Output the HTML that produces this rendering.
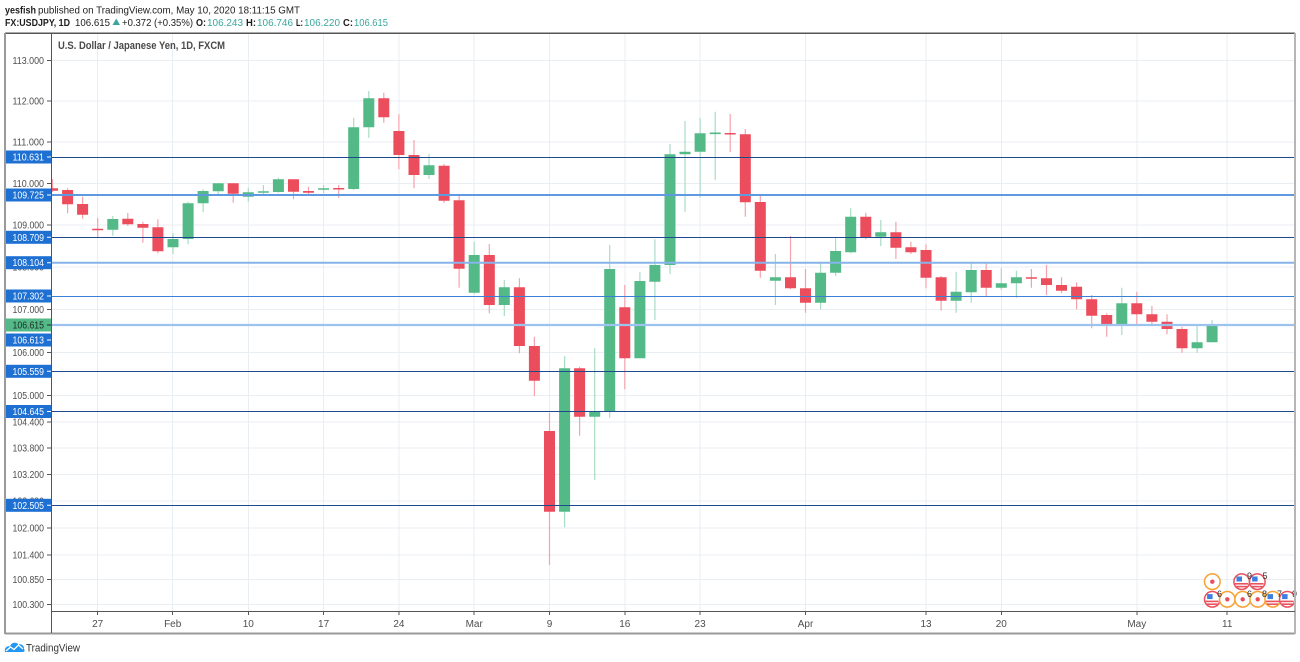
<!DOCTYPE html>
<html><head><meta charset="utf-8"><style>
html,body{margin:0;padding:0;background:#fff;}
svg{display:block;font-family:"Liberation Sans",sans-serif;}
</style></head><body>
<svg width="1300" height="662" viewBox="0 0 1300 662" xmlns="http://www.w3.org/2000/svg">
<defs><clipPath id="ca"><rect x="52" y="34" width="1242" height="577"/></clipPath></defs>
<rect width="1300" height="662" fill="#fff"/>

<!-- header -->
<text x="5" y="13.5" font-size="10.5" font-weight="bold" fill="#1e1e1e" textLength="31" lengthAdjust="spacingAndGlyphs">yesfish</text>
<text x="38" y="13.5" font-size="10.5" fill="#1e1e1e" textLength="262" lengthAdjust="spacingAndGlyphs">published on TradingView.com, May 10, 2020 18:11:15 GMT</text>
<g font-size="10.5" fill="#1e1e1e">
<text x="5" y="26" font-weight="bold" textLength="65" lengthAdjust="spacingAndGlyphs">FX:USDJPY, 1D</text>
<text x="75" y="26" textLength="35" lengthAdjust="spacingAndGlyphs">106.615</text>
<polygon points="112.5,25 120,25 116.25,18.5" fill="#3aa69d"/>
<text x="122" y="26" textLength="71" lengthAdjust="spacingAndGlyphs">+0.372 (+0.35%)</text>
<text x="196" y="26" font-weight="bold" textLength="10" lengthAdjust="spacingAndGlyphs">O:</text>
<text x="207" y="26" fill="#3aa69d" textLength="36" lengthAdjust="spacingAndGlyphs">106.243</text>
<text x="246" y="26" font-weight="bold" textLength="10" lengthAdjust="spacingAndGlyphs">H:</text>
<text x="257" y="26" fill="#3aa69d" textLength="36" lengthAdjust="spacingAndGlyphs">106.746</text>
<text x="296" y="26" font-weight="bold" textLength="7" lengthAdjust="spacingAndGlyphs">L:</text>
<text x="304" y="26" fill="#3aa69d" textLength="36" lengthAdjust="spacingAndGlyphs">106.220</text>
<text x="343" y="26" font-weight="bold" textLength="10" lengthAdjust="spacingAndGlyphs">C:</text>
<text x="354" y="26" fill="#3aa69d" textLength="34" lengthAdjust="spacingAndGlyphs">106.615</text>
</g>

<!-- grid -->
<g stroke="#e9eef3" stroke-width="1" shape-rendering="crispEdges">
<path d="M52 60.5H1294M52 101H1294M52 142H1294M52 183.3H1294M52 225H1294M52 267.1H1294M52 309.5H1294M52 352.4H1294M52 395.7H1294M52 421.8H1294M52 448.1H1294M52 474.6H1294M52 501.1H1294M52 528H1294M52 554.9H1294M52 579.7H1294M52 604.7H1294"/>
<path d="M97.7 34V611M172.7 34V611M248.3 34V611M323.6 34V611M398.9 34V611M474.2 34V611M549.5 34V611M624.8 34V611M700.1 34V611M805.5 34V611M926 34V611M1001.3 34V611M1136.8 34V611M1227.2 34V611"/>
</g>

<!-- title -->
<text x="58" y="49" font-size="11" font-weight="bold" fill="#4a4a4a" textLength="167" lengthAdjust="spacingAndGlyphs">U.S. Dollar / Japanese Yen, 1D, FXCM</text>

<!-- candles -->
<g clip-path="url(#ca)">
<path fill="none" stroke="#a9dcc3" stroke-width="1.2" d="M112.8 216V235.7 M173 233.3V254 M188.1 201.7V244.3 M203.1 189.3V212.3 M218.2 183.3V195 M248.3 187.7V201.7 M263.4 185V195 M278.4 177.7V192.7 M323.6 185V193.3 M353.7 117.7V190 M368.8 91V137.7 M429 154V179 M474.2 241.7V294.3 M504.3 280V316 M564.6 356V527.3 M594.7 348.3V480 M609.7 245V417.7 M639.9 272.3V358.3 M654.9 239.3V320 M670 144V274 M685 121V211.7 M700.1 117.7V197.7 M715.2 111.7V180 M775.4 254V305 M820.6 261.7V309.3 M835.6 238.3V276 M850.7 208.3V253.3 M880.8 220V246 M956.1 271.7V312.7 M971.2 262.3V302.7 M1001.3 268.3V290 M1016.4 270.7V297.7 M1121.8 287.7V335 M1197.1 324V352.7 M1212.1 320V342.3"/>
<path fill="none" stroke="#f4a3ac" stroke-width="1.2" d="M52.5 179V192 M67.6 188.3V213.3 M82.6 196.7V218.7 M97.7 218V237.3 M127.8 213V226 M142.9 221.7V242.7 M157.9 219.3V253.3 M233.2 183.3V202.7 M293.5 179.3V199.3 M308.5 186.7V196 M338.7 185V197.7 M383.8 92.7V122.7 M398.9 114.3V169.3 M414 140V188.3 M444.1 164V202.7 M459.1 196V287.7 M489.3 244V313.3 M519.4 278.3V353.3 M534.4 336.7V396 M549.5 412.7V565 M579.6 366.7V435.7 M624.8 285V389.3 M730.2 114V152.3 M745.3 129V216.7 M760.3 194.3V277.7 M790.5 236V289.3 M805.5 269V312.7 M865.8 212.7V239.3 M895.9 221.7V259 M910.9 241.7V254 M926 244.3V288.3 M941.1 276V310.7 M986.2 262.3V296.7 M1031.4 269V287.7 M1046.5 265V295 M1061.5 277.3V293.3 M1076.6 282.3V309.3 M1091.7 295V328.3 M1106.7 313.3V336.7 M1136.8 291.7V326 M1151.9 306V325 M1167 314.3V334.3 M1182 326.7V352.7"/>
<path fill="#53b987" d="M107.3 219h11v10.7h-11z M167.5 239h11v8.3h-11z M182.6 203.3h11v35.7h-11z M197.6 191h11v12.3h-11z M212.7 183.3h11v8h-11z M242.8 192.3h11v4.4h-11z M257.9 191.3h11v1.5h-11z M272.9 179.3h11v12.7h-11z M318.1 188.3h11v1.5h-11z M348.2 127.3h11v61.7h-11z M363.3 98.3h11v29h-11z M423.5 165.3h11v9.7h-11z M468.7 255h11v37.7h-11z M498.8 287.3h11v17.7h-11z M559.1 368.3h11v143.4h-11z M589.2 411.7h11v5h-11z M604.2 269h11v142.7h-11z M634.4 281h11v77.3h-11z M649.4 265h11v16.7h-11z M664.5 154.3h11v110.7h-11z M679.5 151.7h11v2.6h-11z M694.6 133.3h11v18.4h-11z M709.7 132.5h11v1.6h-11z M769.9 277.3h11v3.4h-11z M815.1 272.7h11v30h-11z M830.1 251h11v21.7h-11z M845.2 216.7h11v35.6h-11z M875.3 232.3h11v4.4h-11z M950.6 291.7h11v9h-11z M965.7 270h11v22.3h-11z M995.8 283.3h11v4.4h-11z M1010.9 277.3h11v6h-11z M1116.3 303.3h11v22.4h-11z M1191.6 342.3h11v6h-11z M1206.6 325.7h11v16.6h-11z"/>
<path fill="#eb4d5c" d="M47 188.3h11v2.4h-11z M62.1 190h11v14.3h-11z M77.1 204h11v10.7h-11z M92.2 228.8h11v1.5h-11z M122.3 218.7h11v5.6h-11z M137.4 224h11v3.7h-11z M152.4 227.3h11v24h-11z M227.7 183.3h11v10.4h-11z M288 179.3h11v12.4h-11z M303 191h11v1.7h-11z M333.2 188h11v1.5h-11z M378.3 98.3h11v19h-11z M393.4 131h11v24h-11z M408.5 155h11v20h-11z M438.6 165.7h11v35h-11z M453.6 200.3h11v68.4h-11z M483.8 255h11v50h-11z M513.9 287.3h11v58.7h-11z M528.9 346h11v34.7h-11z M544 431h11v80.7h-11z M574.1 368.3h11v48.4h-11z M619.3 307.3h11v51h-11z M724.7 133h11v1.5h-11z M739.8 134.3h11v68h-11z M754.8 202h11v68.7h-11z M785 277.3h11v11h-11z M800 288.3h11v14.4h-11z M860.3 216.7h11v20.6h-11z M890.4 232.3h11v15.4h-11z M905.4 247.3h11v5h-11z M920.5 250h11v27.7h-11z M935.6 277.3h11v23.4h-11z M980.7 270h11v17.7h-11z M1025.9 277.3h11v1.5h-11z M1041 278.3h11v6.7h-11z M1056 285h11v5.7h-11z M1071.1 286.7h11v12.6h-11z M1086.2 299.3h11v16.4h-11z M1101.2 315h11v10.7h-11z M1131.3 303.3h11v11h-11z M1146.4 314.3h11v7.4h-11z M1161.5 321.7h11v7.3h-11z M1176.5 329h11v19.3h-11z"/>
</g>

<!-- horizontal drawn lines -->
<g fill="none">
<path d="M52 157.5H1294M52 237.5H1294M52 371.5H1294M52 411.5H1294M52 505.5H1294" stroke="#1d4a8c" stroke-width="1"/>
<path d="M52 195H1294" stroke="#5f9ae0" stroke-width="2"/>
<path d="M52 262.7H1294" stroke="#86b4e9" stroke-width="2"/>
<path d="M52 296.5H1294" stroke="#3a80d6" stroke-width="1"/>
<path d="M52 325H1294" stroke="#9cc3ee" stroke-width="2.2"/>
</g>

<!-- event icons -->
<g>
<circle cx="1212.3" cy="581.7" r="7.8" fill="#fff" stroke="#f6a234" stroke-width="1.5"/><circle cx="1212.3" cy="581.7" r="2.2" fill="#ea4d5c"/>
<circle cx="1241.7" cy="581.7" r="7.8" fill="#fff" stroke="#e9525f" stroke-width="1.5"/><rect x="1236.5" y="576.5" width="5.5" height="5" fill="#3c7fe0"/><rect x="1235" y="583" width="13" height="1.6" fill="#e9525f"/><rect x="1236" y="585.8" width="11" height="1.6" fill="#e9525f"/>
<circle cx="1257.3" cy="581.7" r="7.8" fill="#fff" stroke="#e9525f" stroke-width="1.5"/><rect x="1252.1" y="576.5" width="5.5" height="5" fill="#3c7fe0"/><rect x="1250.6" y="583" width="13" height="1.6" fill="#e9525f"/><rect x="1251.6" y="585.8" width="11" height="1.6" fill="#e9525f"/>
<circle cx="1212.3" cy="599.3" r="7.8" fill="#fff" stroke="#e9525f" stroke-width="1.5"/><rect x="1207.1" y="594.1" width="5.5" height="5" fill="#3c7fe0"/><rect x="1205.6" y="600.6" width="13" height="1.6" fill="#e9525f"/><rect x="1206.6" y="603.4" width="11" height="1.6" fill="#e9525f"/>
<circle cx="1227.3" cy="599.3" r="7.8" fill="#fff" stroke="#f6a234" stroke-width="1.5"/><circle cx="1227.3" cy="599.3" r="2.2" fill="#ea4d5c"/>
<circle cx="1242.7" cy="599.3" r="7.8" fill="#fff" stroke="#f6a234" stroke-width="1.5"/><circle cx="1242.7" cy="599.3" r="2.2" fill="#ea4d5c"/>
<circle cx="1257.7" cy="599.3" r="7.8" fill="#fff" stroke="#f6a234" stroke-width="1.5"/><circle cx="1257.7" cy="599.3" r="2.2" fill="#ea4d5c"/>
<circle cx="1272.7" cy="599.3" r="7.8" fill="#fff" stroke="#f6a234" stroke-width="1.5"/><rect x="1267.5" y="594.1" width="5.5" height="5" fill="#3c7fe0"/><rect x="1266" y="600.6" width="13" height="1.6" fill="#e9525f"/><rect x="1267" y="603.4" width="11" height="1.6" fill="#e9525f"/>
<circle cx="1287.3" cy="599.3" r="7.8" fill="#fff" stroke="#e9525f" stroke-width="1.5"/><rect x="1282.1" y="594.1" width="5.5" height="5" fill="#3c7fe0"/><rect x="1280.6" y="600.6" width="13" height="1.6" fill="#e9525f"/><rect x="1281.6" y="603.4" width="11" height="1.6" fill="#e9525f"/>
<g font-size="9" fill="#333">
<text x="1247" y="579">9</text><text x="1262.5" y="579">5</text>
<text x="1217" y="597">6</text><text x="1247" y="597">6</text><text x="1262" y="597">8</text><text x="1277" y="597">7</text><text x="1292" y="597">9</text>
</g>
</g>

<!-- white area for price axis -->
<rect x="5" y="33" width="46.5" height="578" fill="#fff"/>
<!-- axis labels (gray) -->
<g font-size="10" fill="#4e4e4e" text-anchor="end">
<text x="44" y="64" textLength="31.5" lengthAdjust="spacingAndGlyphs">113.000</text>
<text x="44" y="104.5" textLength="31.5" lengthAdjust="spacingAndGlyphs">112.000</text>
<text x="44" y="145.5" textLength="31.5" lengthAdjust="spacingAndGlyphs">111.000</text>
<text x="44" y="186.8" textLength="31.5" lengthAdjust="spacingAndGlyphs">110.000</text>
<text x="44" y="228.5" textLength="31.5" lengthAdjust="spacingAndGlyphs">109.000</text>
<text x="44" y="270.6" textLength="31.5" lengthAdjust="spacingAndGlyphs">108.000</text>
<text x="44" y="313" textLength="31.5" lengthAdjust="spacingAndGlyphs">107.000</text>
<text x="44" y="355.9" textLength="31.5" lengthAdjust="spacingAndGlyphs">106.000</text>
<text x="44" y="399.2" textLength="31.5" lengthAdjust="spacingAndGlyphs">105.000</text>
<text x="44" y="425.3" textLength="31.5" lengthAdjust="spacingAndGlyphs">104.400</text>
<text x="44" y="451.6" textLength="31.5" lengthAdjust="spacingAndGlyphs">103.800</text>
<text x="44" y="478.1" textLength="31.5" lengthAdjust="spacingAndGlyphs">103.200</text>
<text x="44" y="504.6" textLength="31.5" lengthAdjust="spacingAndGlyphs">102.600</text>
<text x="44" y="531.5" textLength="31.5" lengthAdjust="spacingAndGlyphs">102.000</text>
<text x="44" y="558.4" textLength="31.5" lengthAdjust="spacingAndGlyphs">101.400</text>
<text x="44" y="583.2" textLength="31.5" lengthAdjust="spacingAndGlyphs">100.850</text>
<text x="44" y="608.2" textLength="31.5" lengthAdjust="spacingAndGlyphs">100.300</text>
</g>
<g stroke="#555" stroke-width="1" shape-rendering="crispEdges">
<path d="M47 60.5H51M47 101H51M47 142H51M47 183.3H51M47 225H51M47 267.1H51M47 309.5H51M47 352.4H51M47 395.7H51M47 421.8H51M47 448.1H51M47 474.6H51M47 501.1H51M47 528H51M47 554.9H51M47 579.7H51M47 604.7H51"/>
</g>

<!-- price label boxes -->
<g font-size="10" text-anchor="end">
<rect x="5" y="150.5" width="46" height="13" fill="#1e70d2"/><text x="44" y="160.5" fill="#fff" textLength="31.5" lengthAdjust="spacingAndGlyphs">110.631</text>
<rect x="5" y="188.5" width="46" height="13" fill="#1e70d2"/><text x="44" y="198.5" fill="#fff" textLength="31.5" lengthAdjust="spacingAndGlyphs">109.725</text>
<rect x="5" y="230.8" width="46" height="13" fill="#1e70d2"/><text x="44" y="240.8" fill="#fff" textLength="31.5" lengthAdjust="spacingAndGlyphs">108.709</text>
<rect x="5" y="256.2" width="46" height="13" fill="#1e70d2"/><text x="44" y="266.2" fill="#fff" textLength="31.5" lengthAdjust="spacingAndGlyphs">108.104</text>
<rect x="5" y="289.5" width="46" height="13" fill="#1e70d2"/><text x="44" y="299.5" fill="#fff" textLength="31.5" lengthAdjust="spacingAndGlyphs">107.302</text>
<rect x="5" y="318.5" width="46" height="13" fill="#53b987"/><text x="44" y="328.5" fill="#1f2a24" textLength="31.5" lengthAdjust="spacingAndGlyphs">106.615</text>
<rect x="5" y="333.5" width="46" height="13" fill="#1e70d2"/><text x="44" y="343.5" fill="#fff" textLength="31.5" lengthAdjust="spacingAndGlyphs">106.613</text>
<rect x="5" y="364.8" width="46" height="13" fill="#1e70d2"/><text x="44" y="374.8" fill="#fff" textLength="31.5" lengthAdjust="spacingAndGlyphs">105.559</text>
<rect x="5" y="405" width="46" height="13" fill="#1e70d2"/><text x="44" y="415" fill="#fff" textLength="31.5" lengthAdjust="spacingAndGlyphs">104.645</text>
<rect x="5" y="498.8" width="46" height="13" fill="#1e70d2"/><text x="44" y="508.8" fill="#fff" textLength="31.5" lengthAdjust="spacingAndGlyphs">102.505</text>
</g>
<g stroke="#fff" stroke-width="1"><path d="M47 157H51M47 195H51M47 237.3H51M47 262.7H51M47 296H51M47 340H51M47 371.3H51M47 411.5H51M47 505.3H51"/></g>
<path d="M47 325H51" stroke="#1f2a24" stroke-width="1"/>

<!-- time axis -->
<rect x="52" y="612" width="1242" height="21" fill="#fff"/>
<g stroke="#555" stroke-width="1" shape-rendering="crispEdges">
<path d="M97.7 611V615M172.7 611V615M248.3 611V615M323.6 611V615M398.9 611V615M474.2 611V615M549.5 611V615M624.8 611V615M700.1 611V615M805.5 611V615M926 611V615M1001.3 611V615M1136.8 611V615M1227.2 611V615"/>
</g>
<g font-size="10" fill="#4e4e4e" text-anchor="middle">
<text x="97.7" y="627">27</text><text x="172.7" y="627">Feb</text><text x="248.3" y="627">10</text><text x="323.6" y="627">17</text><text x="398.9" y="627">24</text><text x="474.2" y="627">Mar</text><text x="549.5" y="627">9</text><text x="624.8" y="627">16</text><text x="700.1" y="627">23</text><text x="805.5" y="627">Apr</text><text x="926" y="627">13</text><text x="1001.3" y="627">20</text><text x="1136.8" y="627">May</text><text x="1227.2" y="627">11</text>
</g>

<!-- frame -->
<g fill="none" shape-rendering="crispEdges">
<path d="M5 33H1295" stroke="#555" stroke-width="1.5"/>
<path d="M5 33V634" stroke="#9a9a9a" stroke-width="2"/>
<path d="M5 633.5H1295" stroke="#9a9a9a" stroke-width="2"/>
<path d="M1295 33V634" stroke="#b5b5b5" stroke-width="2"/>
<path d="M51.5 33V633" stroke="#555" stroke-width="1"/>
<path d="M51.5 611.5H1295" stroke="#555" stroke-width="1"/>
</g>

<!-- TradingView logo -->
<g>
<path d="M5 652 C4 648 7 645.5 10 646.5 C11 642.5 16 641.5 18.5 644.5 C21.5 643.5 24.5 646 24 649 C25 650 24.5 652 23 652 Z" fill="#2196f3"/>
<path d="M6 651 L10.5 647 L14 649.5 L18.5 645 L23 649" fill="none" stroke="#fff" stroke-width="1.3"/>
<text x="26" y="651.5" font-size="11" fill="#333" textLength="54" lengthAdjust="spacingAndGlyphs">TradingView</text>
</g>
</svg>
</body></html>
